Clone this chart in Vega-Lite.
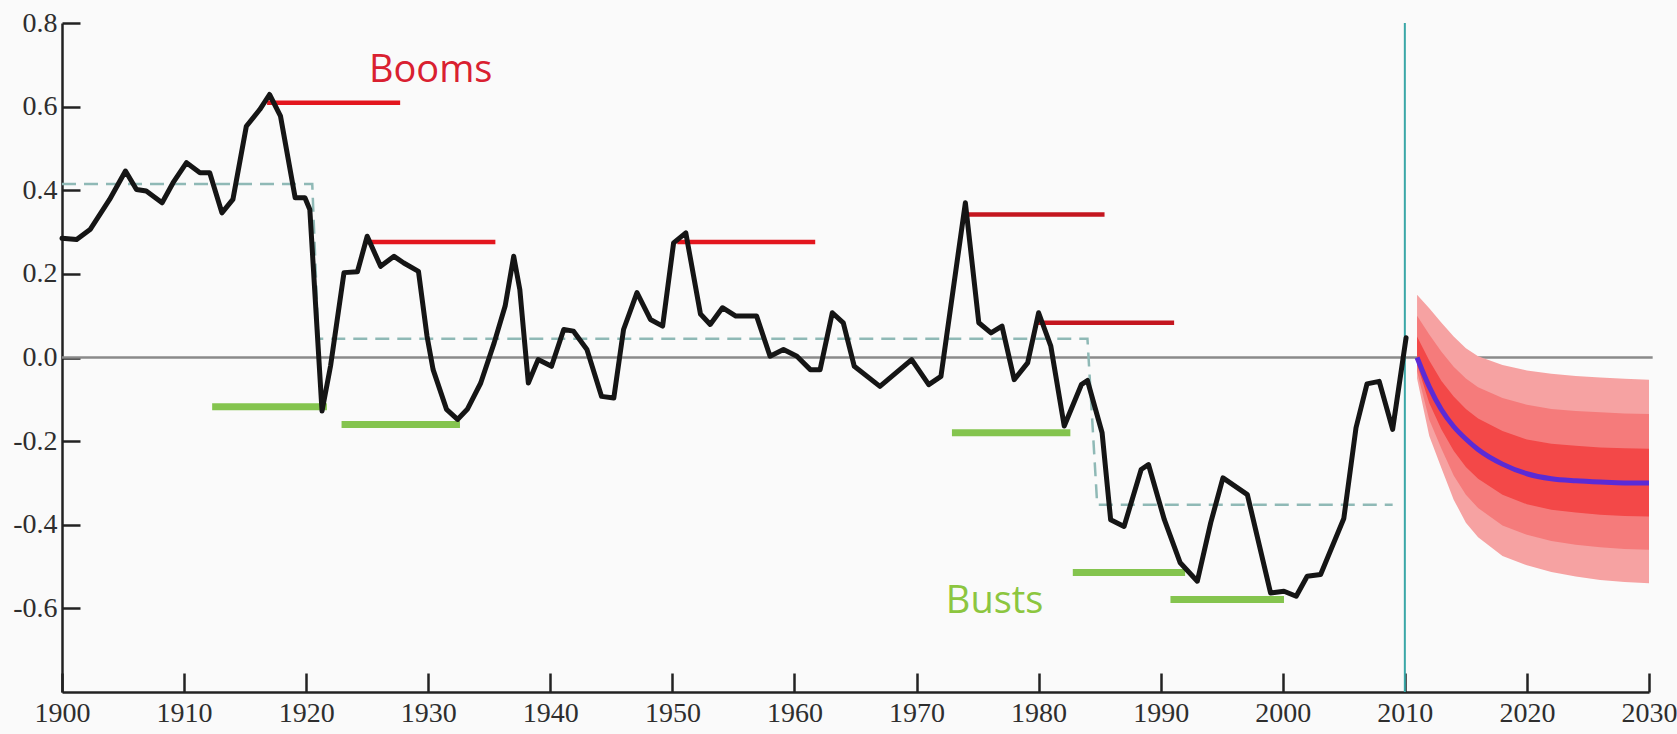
{
  "$schema": "https://vega.github.io/schema/vega-lite/v6.json",
  "width": 1587,
  "height": 669,
  "autosize": {"type": "none"},
  "padding": {"left": 62, "top": 23, "right": 28, "bottom": 42},
  "background": "#fafafa",
  "config": {"view": {"stroke": null}},
  "datasets": {
    "series": [
      {"year": 1900.0, "value": 0.285}, {"year": 1901.2, "value": 0.282}, {"year": 1902.3, "value": 0.306},
      {"year": 1903.9, "value": 0.378}, {"year": 1905.2, "value": 0.446}, {"year": 1906.1, "value": 0.402},
      {"year": 1906.9, "value": 0.398}, {"year": 1908.2, "value": 0.370}, {"year": 1909.1, "value": 0.418},
      {"year": 1910.2, "value": 0.466}, {"year": 1911.3, "value": 0.442}, {"year": 1912.1, "value": 0.442},
      {"year": 1913.1, "value": 0.346}, {"year": 1914.0, "value": 0.378}, {"year": 1915.1, "value": 0.553},
      {"year": 1916.2, "value": 0.593}, {"year": 1917.0, "value": 0.629}, {"year": 1917.9, "value": 0.577},
      {"year": 1919.1, "value": 0.382}, {"year": 1919.9, "value": 0.382}, {"year": 1920.3, "value": 0.354},
      {"year": 1921.3, "value": -0.128}, {"year": 1922.0, "value": -0.02}, {"year": 1923.1, "value": 0.203},
      {"year": 1924.2, "value": 0.205}, {"year": 1925.0, "value": 0.29}, {"year": 1926.1, "value": 0.218},
      {"year": 1927.2, "value": 0.242}, {"year": 1928.0, "value": 0.226}, {"year": 1929.2, "value": 0.206},
      {"year": 1929.9, "value": 0.051}, {"year": 1930.4, "value": -0.029}, {"year": 1931.5, "value": -0.124},
      {"year": 1932.4, "value": -0.148}, {"year": 1933.2, "value": -0.124}, {"year": 1934.3, "value": -0.061},
      {"year": 1935.4, "value": 0.035}, {"year": 1936.3, "value": 0.123}, {"year": 1937.0, "value": 0.242},
      {"year": 1937.5, "value": 0.163}, {"year": 1938.2, "value": -0.061}, {"year": 1939.0, "value": -0.005},
      {"year": 1940.1, "value": -0.021}, {"year": 1941.1, "value": 0.067}, {"year": 1941.9, "value": 0.063},
      {"year": 1943.0, "value": 0.019}, {"year": 1944.2, "value": -0.093}, {"year": 1945.2, "value": -0.097},
      {"year": 1946.0, "value": 0.067}, {"year": 1947.1, "value": 0.155}, {"year": 1948.2, "value": 0.091},
      {"year": 1949.2, "value": 0.075}, {"year": 1950.1, "value": 0.274}, {"year": 1951.1, "value": 0.298},
      {"year": 1952.3, "value": 0.104}, {"year": 1953.1, "value": 0.079}, {"year": 1954.1, "value": 0.119},
      {"year": 1955.2, "value": 0.099}, {"year": 1956.9, "value": 0.099}, {"year": 1958.0, "value": 0.003},
      {"year": 1959.1, "value": 0.019}, {"year": 1960.2, "value": 0.003}, {"year": 1961.3, "value": -0.029},
      {"year": 1962.1, "value": -0.029}, {"year": 1963.1, "value": 0.107}, {"year": 1964.0, "value": 0.083},
      {"year": 1964.9, "value": -0.021}, {"year": 1967.0, "value": -0.069}, {"year": 1969.6, "value": -0.005},
      {"year": 1971.0, "value": -0.065}, {"year": 1972.0, "value": -0.045}, {"year": 1974.0, "value": 0.37},
      {"year": 1975.1, "value": 0.083}, {"year": 1976.1, "value": 0.059}, {"year": 1977.0, "value": 0.075},
      {"year": 1978.0, "value": -0.053}, {"year": 1979.1, "value": -0.013}, {"year": 1980.0, "value": 0.107},
      {"year": 1981.0, "value": 0.027}, {"year": 1982.1, "value": -0.164}, {"year": 1983.5, "value": -0.065},
      {"year": 1984.0, "value": -0.055}, {"year": 1985.2, "value": -0.18}, {"year": 1985.9, "value": -0.388},
      {"year": 1987.0, "value": -0.404}, {"year": 1988.4, "value": -0.268}, {"year": 1989.0, "value": -0.256},
      {"year": 1990.3, "value": -0.388}, {"year": 1991.6, "value": -0.491}, {"year": 1993.0, "value": -0.535},
      {"year": 1994.1, "value": -0.395}, {"year": 1995.1, "value": -0.288}, {"year": 1997.1, "value": -0.328},
      {"year": 1999.0, "value": -0.563}, {"year": 2000.1, "value": -0.559}, {"year": 2001.1, "value": -0.571},
      {"year": 2002.0, "value": -0.523}, {"year": 2003.1, "value": -0.519}, {"year": 2005.0, "value": -0.385},
      {"year": 2006.0, "value": -0.168}, {"year": 2006.9, "value": -0.063}, {"year": 2007.9, "value": -0.057},
      {"year": 2009.0, "value": -0.172}, {"year": 2010.1, "value": 0.047}
    ],
    "regime": [
      {"year": 1900.0, "value": 0.415}, {"year": 1920.5, "value": 0.415},
      {"year": 1921.0, "value": 0.045}, {"year": 1984.0, "value": 0.045},
      {"year": 1984.8, "value": -0.352}, {"year": 2009.0, "value": -0.352}
    ],
    "fan": [
      {"year": 2011, "m": 0.0, "lo1": -0.05, "hi1": 0.15, "lo2": -0.033, "hi2": 0.10, "lo3": -0.017, "hi3": 0.05},
      {"year": 2012, "m": -0.07, "lo1": -0.188, "hi1": 0.118, "lo2": -0.149, "hi2": 0.055, "lo3": -0.109, "hi3": -0.007},
      {"year": 2013, "m": -0.125, "lo1": -0.265, "hi1": 0.083, "lo2": -0.218, "hi2": 0.014, "lo3": -0.172, "hi3": -0.056},
      {"year": 2014, "m": -0.165, "lo1": -0.34, "hi1": 0.05, "lo2": -0.282, "hi2": -0.022, "lo3": -0.223, "hi3": -0.093},
      {"year": 2015, "m": -0.195, "lo1": -0.395, "hi1": 0.022, "lo2": -0.328, "hi2": -0.05, "lo3": -0.262, "hi3": -0.123},
      {"year": 2016, "m": -0.22, "lo1": -0.43, "hi1": 0.003, "lo2": -0.36, "hi2": -0.071, "lo3": -0.29, "hi3": -0.146},
      {"year": 2018, "m": -0.255, "lo1": -0.475, "hi1": -0.018, "lo2": -0.402, "hi2": -0.097, "lo3": -0.328, "hi3": -0.176},
      {"year": 2020, "m": -0.278, "lo1": -0.497, "hi1": -0.031, "lo2": -0.424, "hi2": -0.113, "lo3": -0.351, "hi3": -0.196},
      {"year": 2022, "m": -0.29, "lo1": -0.513, "hi1": -0.039, "lo2": -0.439, "hi2": -0.123, "lo3": -0.364, "hi3": -0.206},
      {"year": 2024, "m": -0.295, "lo1": -0.524, "hi1": -0.044, "lo2": -0.448, "hi2": -0.128, "lo3": -0.371, "hi3": -0.211},
      {"year": 2026, "m": -0.298, "lo1": -0.532, "hi1": -0.048, "lo2": -0.454, "hi2": -0.131, "lo3": -0.376, "hi3": -0.215},
      {"year": 2028, "m": -0.30, "lo1": -0.537, "hi1": -0.051, "lo2": -0.458, "hi2": -0.134, "lo3": -0.379, "hi3": -0.217},
      {"year": 2030, "m": -0.30, "lo1": -0.54, "hi1": -0.053, "lo2": -0.46, "hi2": -0.135, "lo3": -0.38, "hi3": -0.218}
    ],
    "segments": [
      {"kind": "boom", "start": 1916.8, "end": 1927.7, "level": 0.609},
      {"kind": "boom", "start": 1924.8, "end": 1935.5, "level": 0.276},
      {"kind": "boom", "start": 1950.4, "end": 1961.7, "level": 0.276},
      {"kind": "boom2", "start": 1974.0, "end": 1985.4, "level": 0.342},
      {"kind": "boom2", "start": 1979.9, "end": 1991.1, "level": 0.083},
      {"kind": "bust", "start": 1912.3, "end": 1921.7, "level": -0.118},
      {"kind": "bust", "start": 1922.9, "end": 1932.6, "level": -0.160},
      {"kind": "bust", "start": 1972.9, "end": 1982.6, "level": -0.180},
      {"kind": "bust", "start": 1982.8, "end": 1992.0, "level": -0.514},
      {"kind": "bust", "start": 1990.8, "end": 2000.1, "level": -0.579}
    ],
    "zero": [{"start": 1900, "end": 2030.3, "level": 0}],
    "divider": [{"year": 2010}],
    "labels": [
      {"kind": "boom", "year": 1930.2, "level": 0.66, "text": "Booms"},
      {"kind": "bust", "year": 1976.4, "level": -0.61, "text": "Busts"}
    ]
  },
  "layer": [
    {
      "data": {"name": "zero"},
      "mark": {"type": "rule", "color": "#8a8a8a", "strokeWidth": 2.5},
      "encoding": {
        "x": {
          "field": "start", "type": "quantitative", "title": null,
          "scale": {"domain": [1900, 2030], "nice": false, "zero": false},
          "axis": {
            "title": null, "values": [1900, 1910, 1920, 1930, 1940, 1950, 1960, 1970, 1980, 1990, 2000, 2010, 2020, 2030],
            "format": "d", "grid": false, "domainColor": "#222", "domainWidth": 2.5,
            "tickColor": "#222", "tickWidth": 2.5, "tickSize": -19, "labelPadding": 26,
            "labelFont": "Liberation Serif", "labelFontSize": 28, "labelColor": "#2e2e2e",
            "labelOverlap": false, "labelFlush": false
          }
        },
        "x2": {"field": "end"},
        "y": {
          "field": "level", "type": "quantitative", "title": null,
          "scale": {"domain": [-0.8, 0.8], "nice": false, "zero": false},
          "axis": {
            "title": null, "values": [-0.6, -0.4, -0.2, 0, 0.2, 0.4, 0.6, 0.8],
            "labelExpr": "replace(format(datum.value, '.1f'), '\u2212', '-')",
            "grid": false, "domainColor": "#222", "domainWidth": 2.5,
            "tickColor": "#222", "tickWidth": 2.5, "tickSize": -18, "labelPadding": 23,
            "labelFont": "Liberation Serif", "labelFontSize": 28, "labelColor": "#2e2e2e",
            "labelOverlap": false, "labelFlush": false
          }
        }
      }
    },
    {
      "data": {"name": "fan"},
      "mark": {"type": "area", "color": "#f6a2a2", "opacity": 1},
      "encoding": {
        "x": {"field": "year", "type": "quantitative", "title": null},
        "y": {"field": "hi1", "type": "quantitative", "title": null},
        "y2": {"field": "lo1"}
      }
    },
    {
      "data": {"name": "fan"},
      "mark": {"type": "area", "color": "#f57b7b", "opacity": 1},
      "encoding": {
        "x": {"field": "year", "type": "quantitative", "title": null},
        "y": {"field": "hi2", "type": "quantitative", "title": null},
        "y2": {"field": "lo2"}
      }
    },
    {
      "data": {"name": "fan"},
      "mark": {"type": "area", "color": "#f34848", "opacity": 1},
      "encoding": {
        "x": {"field": "year", "type": "quantitative", "title": null},
        "y": {"field": "hi3", "type": "quantitative", "title": null},
        "y2": {"field": "lo3"}
      }
    },
    {
      "data": {"name": "regime"},
      "mark": {"type": "line", "color": "#8fb9b6", "strokeWidth": 2.5, "strokeDash": [14, 8]},
      "encoding": {
        "x": {"field": "year", "type": "quantitative", "title": null},
        "y": {"field": "value", "type": "quantitative", "title": null}
      }
    },
    {
      "data": {"name": "divider"},
      "mark": {"type": "rule", "color": "#3aa7a7", "strokeWidth": 2},
      "encoding": {
        "x": {"field": "year", "type": "quantitative", "title": null}
      }
    },
    {
      "data": {"name": "segments"},
      "transform": [{"filter": "datum.kind === 'boom'"}],
      "mark": {"type": "rule", "color": "#e3161e", "strokeWidth": 4.5},
      "encoding": {
        "x": {"field": "start", "type": "quantitative", "title": null},
        "x2": {"field": "end"},
        "y": {"field": "level", "type": "quantitative", "title": null}
      }
    },
    {
      "data": {"name": "segments"},
      "transform": [{"filter": "datum.kind === 'boom2'"}],
      "mark": {"type": "rule", "color": "#c4161f", "strokeWidth": 4.5},
      "encoding": {
        "x": {"field": "start", "type": "quantitative", "title": null},
        "x2": {"field": "end"},
        "y": {"field": "level", "type": "quantitative", "title": null}
      }
    },
    {
      "data": {"name": "segments"},
      "transform": [{"filter": "datum.kind === 'bust'"}],
      "mark": {"type": "rule", "color": "#84c44e", "strokeWidth": 7},
      "encoding": {
        "x": {"field": "start", "type": "quantitative", "title": null},
        "x2": {"field": "end"},
        "y": {"field": "level", "type": "quantitative", "title": null}
      }
    },
    {
      "data": {"name": "series"},
      "mark": {"type": "line", "color": "#151515", "strokeWidth": 5, "strokeJoin": "round", "strokeCap": "round"},
      "encoding": {
        "x": {"field": "year", "type": "quantitative", "title": null},
        "y": {"field": "value", "type": "quantitative", "title": null}
      }
    },
    {
      "data": {"name": "fan"},
      "mark": {"type": "line", "color": "#5b2bd6", "strokeWidth": 5, "interpolate": "monotone"},
      "encoding": {
        "x": {"field": "year", "type": "quantitative", "title": null},
        "y": {"field": "m", "type": "quantitative", "title": null}
      }
    },
    {
      "data": {"name": "labels"},
      "transform": [{"filter": "datum.kind === 'boom'"}],
      "mark": {"type": "text", "color": "#d92030", "font": "Open Sans", "fontSize": 38, "fontWeight": 500, "align": "center", "baseline": "alphabetic"},
      "encoding": {
        "x": {"field": "year", "type": "quantitative", "title": null},
        "y": {"field": "level", "type": "quantitative", "title": null},
        "text": {"field": "text"}
      }
    },
    {
      "data": {"name": "labels"},
      "transform": [{"filter": "datum.kind === 'bust'"}],
      "mark": {"type": "text", "color": "#8cc63f", "font": "Open Sans", "fontSize": 38, "fontWeight": 500, "align": "center", "baseline": "alphabetic"},
      "encoding": {
        "x": {"field": "year", "type": "quantitative", "title": null},
        "y": {"field": "level", "type": "quantitative", "title": null},
        "text": {"field": "text"}
      }
    }
  ]
}
